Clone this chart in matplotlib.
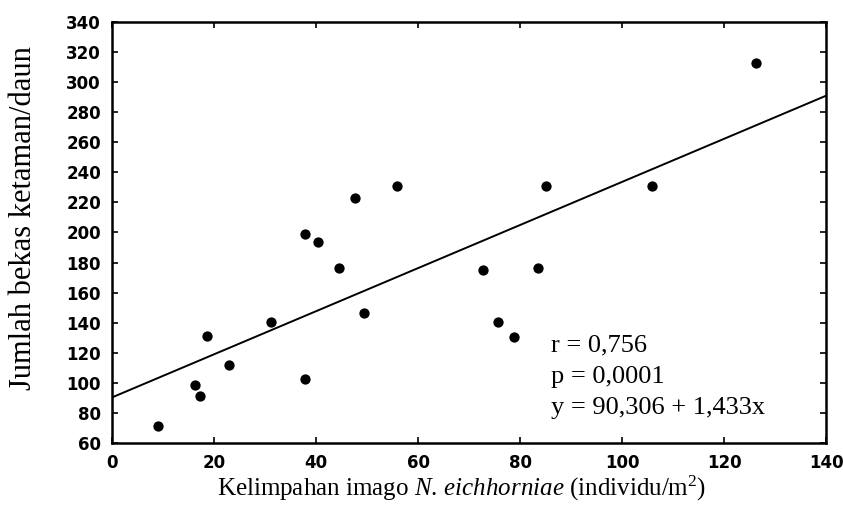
import matplotlib
matplotlib.use("Agg")
import matplotlib.pyplot as plt
import numpy as np

plt.rcParams["mathtext.fontset"] = "custom"
plt.rcParams["mathtext.it"] = "Liberation Serif:italic"
plt.rcParams["mathtext.rm"] = "Liberation Serif"
plt.rcParams["mathtext.bf"] = "Liberation Serif:bold"

# Data
kelimpahan = [9.0, 16.3, 17.2, 18.7, 23.0, 31.2, 37.8, 37.9, 40.4, 44.5,
              47.7, 49.4, 55.9, 72.8, 75.7, 78.8, 83.6, 85.0, 105.8, 126.3]
bekas = [71.3, 98.8, 91.3, 131.1, 111.6, 140.6, 102.7, 199.3, 193.5, 176.3,
         223.1, 146.5, 231.1, 175.0, 140.5, 130.6, 176.5, 231.2, 230.9, 312.5]
intercept = 90.306
slope = 1.433
x_ticks = [0, 20, 40, 60, 80, 100, 120, 140]
y_ticks = [60, 80, 100, 120, 140, 160, 180, 200, 220, 240, 260, 280, 300, 320, 340]
stats_lines = ["r = 0,756", "p = 0,0001", "y = 90,306 + 1,433x"]

fig = plt.figure(figsize=(8.43, 5.11), dpi=100)
ax = fig.add_axes([0.1329, 0.1331, 0.847, 0.824])

ax.scatter(kelimpahan, bekas, s=55, color="black", zorder=3, linewidths=0)
xl = np.array([0, 140])
ax.plot(xl, intercept + slope * xl, color="black", lw=1.4, zorder=2)

ax.set_xlim(0, 140)
ax.set_ylim(60, 340)
ax.set_xticks(x_ticks)
ax.set_yticks(y_ticks)
ax.tick_params(direction="in", length=4, width=1.2, top=True, right=True,
               labelsize=12, pad=8)
for lab in ax.get_xticklabels() + ax.get_yticklabels():
    lab.set_fontweight("bold")
    lab.set_family("DejaVu Sans")
for sp in ax.spines.values():
    sp.set_linewidth(1.8)

serif = "Liberation Serif"
ax.set_xlabel(r"Kelimpahan imago $\mathit{N.\,eichhorniae}$ (individu/m$^{2}$)",
              fontsize=18, family=serif)
ax.set_ylabel("Jumlah bekas ketaman/daun", fontsize=22, family=serif)
ax.xaxis.set_label_coords(0.49, -0.074)
ax.yaxis.set_label_coords(-0.104, 0.534)

for i, t in enumerate(stats_lines):
    ax.text(0.615, 0.231 - i * 0.074, t, transform=ax.transAxes, fontsize=19,
            family=serif, va="center", ha="left")

fig.savefig("out.png", dpi=100)
